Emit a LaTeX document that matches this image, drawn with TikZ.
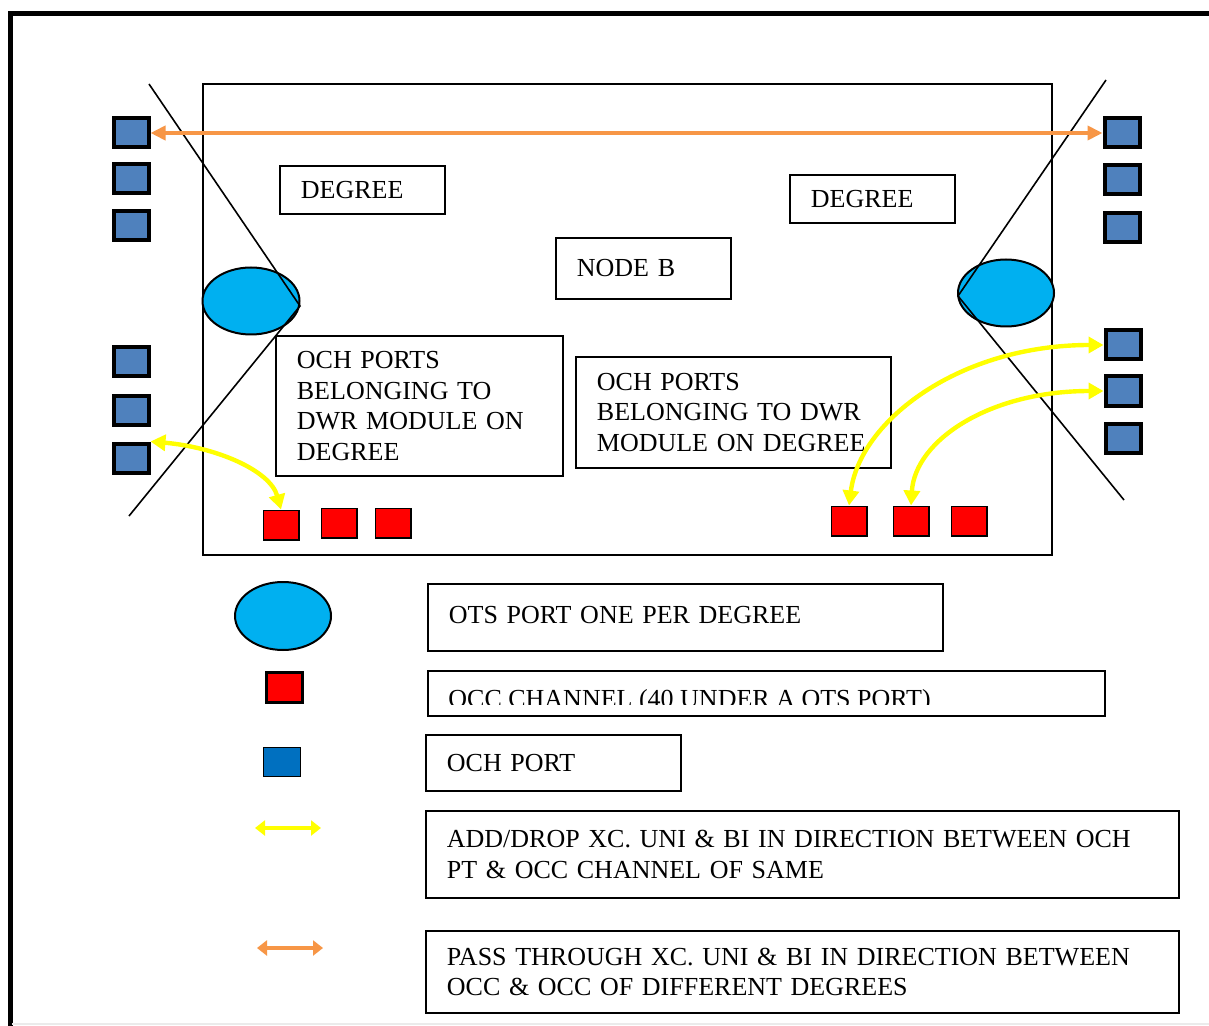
\documentclass[tikz,border=0pt]{standalone}
\usepackage{fontspec}
\setmainfont{Liberation Serif}
\usetikzlibrary{arrows.meta,shapes.geometric}
\definecolor{ochblue}{HTML}{4F81BD}
\definecolor{ochkey}{HTML}{0070C0}
\definecolor{otsblue}{HTML}{00B0F0}
\definecolor{xcorange}{HTML}{F79646}
\definecolor{xcyellow}{HTML}{FFFF00}
\tikzset{
  och/.style={draw, line width=2pt, fill=ochblue, minimum width=17.5pt, minimum height=14.5pt, inner sep=0pt},
  occ/.style={draw, line width=0.8pt, fill=red, minimum width=17.7pt, minimum height=14.7pt, inner sep=0pt},
  ots/.style={ellipse, draw, line width=1pt, fill=otsblue, inner sep=0pt},
  txtbox/.style={draw, line width=0.9pt, anchor=north west, align=left, inner xsep=10.5pt, inner ysep=0pt},
  addxc/.style={draw=xcyellow, line width=2.2pt, {Triangle[length=7.5pt,width=8pt]}-{Triangle[length=7.5pt,width=8pt]}},
  passxc/.style={draw=xcorange, line width=2pt, {Triangle[length=7.5pt,width=7pt]}-{Triangle[length=7.5pt,width=7pt]}}
}
\begin{document}
\begin{tikzpicture}[x=0.5pt,y=-0.5pt,font=\fontsize{13}{15.35}\selectfont]
     \useasboundingbox (0,0) rectangle (1209,1026);
     \fill[white] (0,0) rectangle (1209,1026);
%	page frame
     \draw[line width=2.5pt] (1209,14) -- (10,14) -- (10,1026);
     \draw[black!8, line width=0.6pt] (12,1024) -- (1209,1024);
%	node B
     \draw[line width=1pt] (203,84) rectangle (1052,555);
     \node[ots, minimum width=48.5pt, minimum height=33.5pt] (otsL) at (251,301) {};
     \node[ots, minimum width=48pt, minimum height=33.5pt] (otsR) at (1006,293) {};
     \draw[line width=0.8pt] (149,84) -- (300,306) -- (129,516);
     \draw[line width=0.8pt] (1106,80) -- (958,296) -- (1124,500);
%	och ports, left
     \node[och] (ochL1) at (131,133) {};
     \node[och] (ochL2) at (131,179) {};
     \node[och] (ochL3) at (131,226) {};
     \node[och] (ochL4) at (131,362) {};
     \node[och] (ochL5) at (131,410) {};
     \node[och] (ochL6) at (131,458) {};
%	och ports, right
     \node[och] (ochR1) at (1122,133) {};
     \node[och] (ochR2) at (1122,180) {};
     \node[och] (ochR3) at (1122,228) {};
     \node[och] (ochR4) at (1123,345) {};
     \node[och] (ochR5) at (1123,391) {};
     \node[och] (ochR6) at (1123,438) {};
%	occ channels
     \node[occ] (occL1) at (281,525) {};
     \node[occ] (occL2) at (339,523) {};
     \node[occ] (occL3) at (393,523) {};
     \node[occ] (occR1) at (849,521) {};
     \node[occ] (occR2) at (911,521) {};
     \node[occ] (occR3) at (969,521) {};
%	labels inside node B
     \node[txtbox, text width=61.5pt, minimum height=24pt] (degL) at (279,165) {DEGREE};
     \node[txtbox, text width=61.5pt, minimum height=24pt] (degR) at (789,174) {DEGREE};
     \node[txtbox, text width=66.5pt, minimum height=30.5pt] (nodeb) at (555,237) {NODE B};
     \node[txtbox, text width=122.5pt, minimum height=70pt] (dwrL) at (275,335)
          {OCH PORTS\\BELONGING TO\\DWR MODULE ON\\DEGREE};
     \node[txtbox, text width=136.5pt, minimum height=55.5pt] (dwrR) at (575,356)
          {OCH PORTS\\BELONGING TO DWR\\MODULE ON DEGREE};
%	cross connects
     \draw[passxc] (ochL1.east) -- (ochR1.west);
     \draw[addxc] (ochL6.north east) .. controls (215,447) and (270,470) .. (occL1.north);
     \draw[addxc] (occR1.north) .. controls (860,420) and (960,345) .. (ochR4.west);
     \draw[addxc] (occR2.north) .. controls (915,440) and (990,391) .. (ochR5.west);
%	legend
     \node[ots, minimum width=48pt, minimum height=34pt] (keyots) at (283,616) {};
     \node[occ, line width=1.5pt, minimum width=18pt, minimum height=15pt] (keyocc) at (284,687) {};
     \node[och, line width=0.7pt, fill=ochkey, minimum width=18.5pt, minimum height=14.5pt] (keyoch) at (282,762) {};
     \coordinate (addA) at (255,828); \coordinate (addB) at (321,828);
     \coordinate (passA) at (257,948); \coordinate (passB) at (323,948);
     \draw[draw=xcyellow, line width=2pt, {Triangle[length=5pt,width=7.5pt]}-{Triangle[length=5pt,width=7.5pt]}] (addA) -- (addB);
     \draw[draw=xcorange, line width=2pt, {Triangle[length=5pt,width=7.5pt]}-{Triangle[length=5pt,width=7.5pt]}] (passA) -- (passB);
     \node[txtbox, text width=236.5pt, minimum height=33.5pt] (otstxt) at (427,583)
          {\raisebox{3pt}{OTS PORT ONE PER DEGREE}};
     \node[txtbox, text width=317.5pt, minimum height=22.5pt] (occbox) at (427,670) {};
     \begin{scope}
       \clip (427,670) rectangle (1104,704);
       \node[anchor=base west, inner sep=0pt] (occtxt) at (448,707) {OCC CHANNEL (40 UNDER A OTS PORT)};
     \end{scope}
     \node[txtbox, text width=106.5pt, minimum height=28pt] (ochtxt) at (425,734) {OCH PORT};
     \node[txtbox, text width=355.5pt, minimum height=43.5pt] (addtxt) at (425,810)
          {ADD/DROP XC. UNI \& BI IN DIRECTION BETWEEN OCH\\PT \& OCC CHANNEL OF SAME};
     \node[txtbox, text width=355.5pt, minimum height=41pt] (passtxt) at (425,930)
          {PASS THROUGH XC. UNI \& BI IN DIRECTION BETWEEN\\OCC \& OCC OF DIFFERENT DEGREES};
\end{tikzpicture}
\end{document}
